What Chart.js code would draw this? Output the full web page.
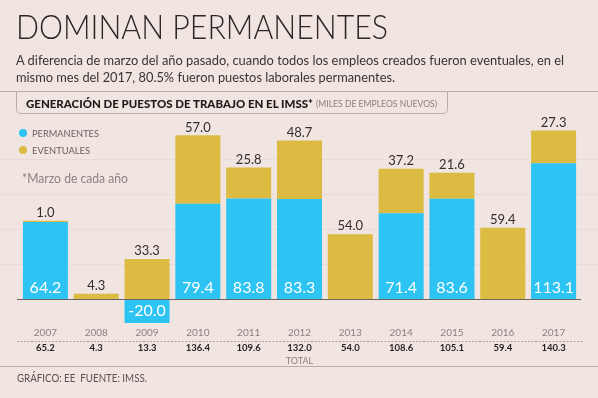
<!DOCTYPE html>
<html><head><meta charset="utf-8">
<script src="https://cdn.jsdelivr.net/npm/chart.js@4.4.1/dist/chart.umd.min.js"></script>
<style>
html,body{margin:0;padding:0;background:#f1e5e2;}
body{width:598px;height:398px;position:relative;overflow:hidden;font-family:Lato,"Open Sans",sans-serif;}
#c{position:absolute;left:0;top:0;}
.t{position:absolute;white-space:nowrap;transform-origin:0 50%;}
.rule{position:absolute;left:0;width:598px;height:1px;background:#b9aba8;}
#box{position:absolute;left:16px;top:91px;width:432px;height:23px;border:1px solid #b9aba8;border-top:none;border-radius:0 0 5px 5px;box-sizing:border-box;}
.dot{position:absolute;width:8px;height:8px;border-radius:50%;}
</style>
</head><body>
<canvas id="c" width="598" height="398"></canvas>
<div class="t" data-fit="372" style="left:16px;top:10px;font-size:33px;line-height:33px;font-weight:300;color:#2b2525;">DOMINAN PERMANENTES</div>
<div class="t" data-fit="548" style="left:16px;top:52px;font-size:14px;line-height:16px;color:#3a3333;">A diferencia de marzo del año pasado, cuando todos los empleos creados fueron eventuales, en el</div>
<div class="t" data-fit="379" style="left:16px;top:69px;font-size:14px;line-height:16px;color:#3a3333;">mismo mes del 2017, 80.5% fueron puestos laborales permanentes.</div>
<div class="rule" style="top:91px;"></div>
<div id="box"></div>
<div class="t" data-fit="287" style="left:26px;top:97px;font-size:11px;line-height:14px;font-weight:900;color:#1e1a1a;">GENERACIÓN DE PUESTOS DE TRABAJO EN EL IMSS*</div>
<div class="t" data-fit="121" style="left:316px;top:98px;font-size:9px;line-height:12px;color:#8a8080;">(MILES DE EMPLEOS NUEVOS)</div>
<div class="dot" style="left:19px;top:129px;background:#2dc3f2;"></div>
<div class="dot" style="left:19px;top:146px;background:#dbbb42;"></div>
<div class="t" data-fit="67" style="left:32px;top:127px;font-size:10px;line-height:12px;color:#6a6060;">PERMANENTES</div>
<div class="t" data-fit="58" style="left:32px;top:144px;font-size:10px;line-height:12px;color:#6a6060;">EVENTUALES</div>
<div class="t" data-fit="106" style="left:22px;top:170px;font-size:13px;line-height:16px;color:#8a8080;">*Marzo de cada año</div>
<div class="rule" style="top:366px;"></div>
<div class="t" data-fit="130" style="left:17px;top:371px;font-size:11px;line-height:14px;color:#5a5050;">GRÁFICO: EE&nbsp;&nbsp;FUENTE: IMSS.</div>
<script>
const years = ['2007','2008','2009','2010','2011','2012','2013','2014','2015','2016','2017'];
const permanentes = [64.2, null, -20.0, 79.4, 83.8, 83.3, null, 71.4, 83.6, null, 113.1];
const eventuales = [1.0, 4.3, 33.3, 57.0, 25.8, 48.7, 54.0, 37.2, 21.6, 59.4, 27.3];
const totales = ['65.2','4.3','13.3','136.4','109.6','132.0','54.0','108.6','105.1','59.4','140.3'];

document.querySelectorAll('[data-fit]').forEach(el => {
  const w = parseFloat(el.dataset.fit);
  const nat = el.getBoundingClientRect().width;
  if (nat > 0) el.style.transform = 'scaleX(' + (w / nat) + ')';
});

const fmt = v => v.toFixed(1);

const valueLabels = {
  id: 'valueLabels',
  beforeDatasetsDraw(chart) {
    const {ctx, scales: {y}} = chart;
    ctx.save();
    ctx.strokeStyle = 'rgba(140,100,100,0.07)';
    ctx.lineWidth = 1;
    y.ticks.forEach(t => {
      if (t.value > 0 && t.value < y.max) {
        const py = Math.round(y.getPixelForValue(t.value)) + 0.5;
        ctx.beginPath(); ctx.moveTo(0, py); ctx.lineTo(598, py); ctx.stroke();
      }
    });
    ctx.restore();
  },
  afterDatasetsDraw(chart) {
    const {ctx, scales: {y, x2}} = chart;
    ctx.save();
    const y0 = Math.round(y.getPixelForValue(0)) + 0.5;
    ctx.strokeStyle = '#6e6262'; ctx.lineWidth = 1;
    ctx.beginPath(); ctx.moveTo(17, y0); ctx.lineTo(581, y0); ctx.stroke();
    const yd = Math.round(x2.top) + 0.5;
    ctx.strokeStyle = '#a99c9a'; ctx.setLineDash([2, 1.5]);
    ctx.beginPath(); ctx.moveTo(17, yd); ctx.lineTo(583, yd); ctx.stroke();
    ctx.setLineDash([]);
    const m0 = chart.getDatasetMeta(0), m1 = chart.getDatasetMeta(1);
    ctx.textAlign = 'center'; ctx.textBaseline = 'middle';
    permanentes.forEach((v, i) => {
      if (v === null) return;
      const el = m0.data[i];
      ctx.fillStyle = '#ffffff';
      ctx.font = '16px Lato';
      const ly = v >= 0 ? el.base - 11 : (el.y + el.base) / 2;
      ctx.fillText(fmt(v), el.x, ly);
    });
    eventuales.forEach((v, i) => {
      const el = m1.data[i];
      ctx.fillStyle = '#342d2d';
      ctx.font = '13px Lato';
      ctx.fillText(fmt(v), el.x, el.y - 8);
    });
    ctx.restore();
  }
};

new Chart(document.getElementById('c'), {
  type: 'bar',
  data: {
    labels: years,
    datasets: [
      {label: 'PERMANENTES', data: permanentes, backgroundColor: '#2dc3f2', stack: 's'},
      {label: 'EVENTUALES', data: eventuales, backgroundColor: '#dbbb42', stack: 's'}
    ]
  },
  options: {
    responsive: false, animation: false, devicePixelRatio: 1,
    layout: {padding: {left: 20, right: 19, top: 119, bottom: 32}},
    plugins: {legend: {display: false}, tooltip: {enabled: false}},
    datasets: {bar: {categoryPercentage: 1, barPercentage: 0.886}},
    scales: {
      x: {
        stacked: true, weight: 0, offset: true,
        grid: {display: false, drawTicks: false}, border: {display: false},
        ticks: {color: '#8a8080', font: {family: 'Lato', size: 10}, padding: 4, maxRotation: 0, autoSkip: false},
        afterFit(s) { s.height = 18; }
      },
      x2: {
        type: 'category', labels: totales, position: 'bottom', weight: 1, offset: true,
        grid: {display: false, drawTicks: false}, border: {display: false},
        ticks: {color: '#231e1e', font: {family: 'Lato', size: 9.5, weight: 'bold'}, padding: 1.5, maxRotation: 0, autoSkip: false},
        title: {display: true, text: 'TOTAL', color: '#8a8080', font: {family: 'Lato', size: 9}, padding: 0},
        afterFit(s) { s.height = 25; }
      },
      y: {display: false, stacked: true, min: -20, max: 150, ticks: {stepSize: 29.2}}
    }
  },
  plugins: [valueLabels]
});
</script>
</body></html>
